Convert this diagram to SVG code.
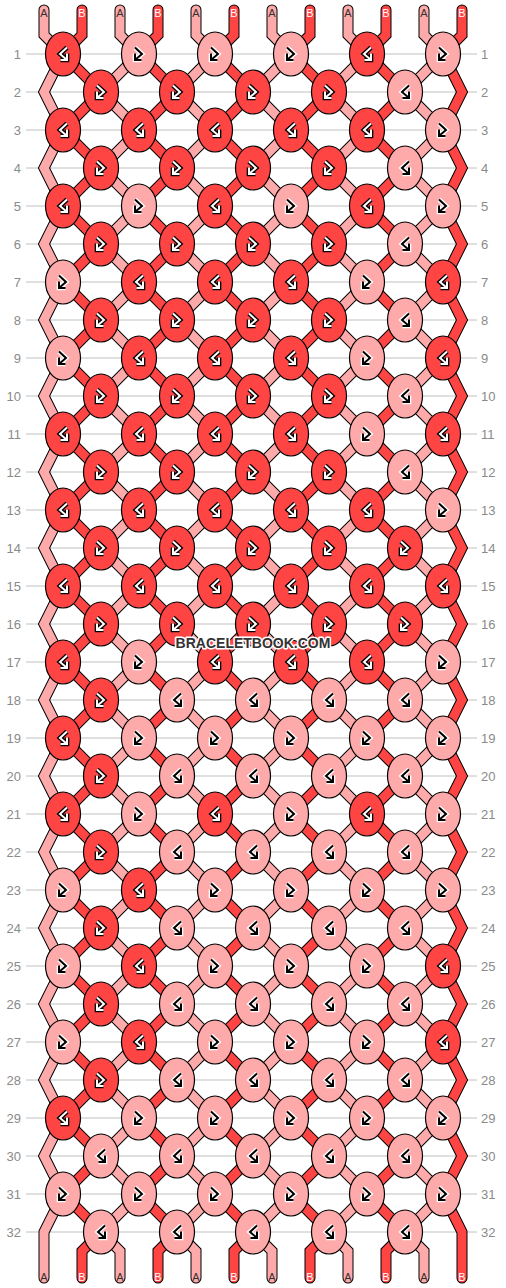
<svg xmlns="http://www.w3.org/2000/svg" xmlns:xlink="http://www.w3.org/1999/xlink" width="506" height="1288" viewBox="0 0 506 1288">
<style>
.grid{fill:none;stroke:#c0c0c0;stroke-width:1}
.rl{font-family:"Liberation Sans",Arial,sans-serif;font-size:13px;fill:#8a8a8a}
.rl.l{text-anchor:end}
.so{fill:none;stroke:#000;stroke-width:11;stroke-linecap:round;stroke-linejoin:miter}
.sa{fill:none;stroke:#ffaaaa;stroke-width:9;stroke-linecap:round;stroke-linejoin:miter}
.sb{fill:none;stroke:#ff4444;stroke-width:9;stroke-linecap:round;stroke-linejoin:miter}
.kd{fill:#ff4444;stroke:#000;stroke-width:1.2}
.kl{fill:#ffaaaa;stroke:#000;stroke-width:1.2}
.aod{stroke:#000;stroke-width:4.6}
.aid{stroke:#fff;stroke-width:2}
.aol{stroke:#fff;stroke-width:4.6}
.ail{stroke:#000;stroke-width:2}
.lab{font-family:"Liberation Sans",Arial,sans-serif;font-size:11px;text-anchor:middle}
.la{fill:#333}
.lb{fill:#fff}
.wm{font-family:"Liberation Sans",Arial,sans-serif;font-size:14px;font-weight:bold;text-anchor:middle;fill:#333;stroke:#fff;stroke-width:3;paint-order:stroke;stroke-linejoin:round}
</style>
<defs>
<path id="fb" fill="none" d="M-4 -6.5 L3 0 L-3.5 5.5 M-4 -0.5 V6 H2.5"/>
<path id="bf" fill="none" d="M4 -6.5 L-3 0 L3.5 5.5 M4 -0.5 V6 H-2.5"/>
<g id="dFB"><ellipse rx="17.5" ry="22" class="kd"/><use href="#fb" class="aod"/><use href="#fb" class="aid"/></g>
<g id="dBF"><ellipse rx="17.5" ry="22" class="kd"/><use href="#bf" class="aod"/><use href="#bf" class="aid"/></g>
<g id="lFB"><ellipse rx="17.5" ry="22" class="kl"/><use href="#fb" class="aol"/><use href="#fb" class="ail"/></g>
<g id="lBF"><ellipse rx="17.5" ry="22" class="kl"/><use href="#bf" class="aol"/><use href="#bf" class="ail"/></g>
<path id="s0" d="M44 10 V35 L63 54 l-19 38 l19 38 l-19 38 l19 38 l-19 38 l19 38 l-19 38 l19 38 l-19 38 l19 38 l-19 38 l19 38 l-19 38 l19 38 l-19 38 l19 38 l-19 38 l19 38 l-19 38 l19 38 l-19 38 l19 38 l-19 38 l19 38 l-19 38 l19 38 l-19 38 l19 38 l-19 38 l19 38 l-19 38 V1278"/>
<path id="s2" d="M120 10 V35 L139 54 l-38 38 l38 38 l-38 38 l38 38 l-38 38 l38 38 l-38 38 l38 38 l-38 38 l38 38 l-38 38 l38 38 l-38 38 l38 38 l-38 38 l38 38 l-38 38 l38 38 l-38 38 l38 38 l-38 38 l38 38 l-38 38 l38 38 l-38 38 l38 38 l-38 38 l38 38 l-38 38 l38 38 l-38 38 l19 19 V1278"/>
<path id="s4" d="M196 10 V35 L215 54 l-38 38 l38 38 l-38 38 l38 38 l-38 38 l38 38 l-38 38 l38 38 l-38 38 l38 38 l-38 38 l38 38 l-38 38 l38 38 l-38 38 l38 38 l-38 38 l38 38 l-38 38 l38 38 l-38 38 l38 38 l-38 38 l38 38 l-38 38 l38 38 l-38 38 l38 38 l-38 38 l38 38 l-38 38 l19 19 V1278"/>
<path id="s6" d="M272 10 V35 L291 54 l-38 38 l38 38 l-38 38 l38 38 l-38 38 l38 38 l-38 38 l38 38 l-38 38 l38 38 l-38 38 l38 38 l-38 38 l38 38 l-38 38 l38 38 l-38 38 l38 38 l-38 38 l38 38 l-38 38 l38 38 l-38 38 l38 38 l-38 38 l38 38 l-38 38 l38 38 l-38 38 l38 38 l-38 38 l19 19 V1278"/>
<path id="s8" d="M348 10 V35 L367 54 l-38 38 l38 38 l-38 38 l38 38 l-38 38 l38 38 l-38 38 l38 38 l-38 38 l38 38 l-38 38 l38 38 l-38 38 l38 38 l-38 38 l38 38 l-38 38 l38 38 l-38 38 l38 38 l-38 38 l38 38 l-38 38 l38 38 l-38 38 l38 38 l-38 38 l38 38 l-38 38 l38 38 l-38 38 l19 19 V1278"/>
<path id="s10" d="M424 10 V35 L443 54 l-38 38 l38 38 l-38 38 l38 38 l-38 38 l38 38 l-38 38 l38 38 l-38 38 l38 38 l-38 38 l38 38 l-38 38 l38 38 l-38 38 l38 38 l-38 38 l38 38 l-38 38 l38 38 l-38 38 l38 38 l-38 38 l38 38 l-38 38 l38 38 l-38 38 l38 38 l-38 38 l38 38 l-38 38 l19 19 V1278"/>
<path id="s1" d="M82 10 V35 L63 54 l38 38 l-38 38 l38 38 l-38 38 l38 38 l-38 38 l38 38 l-38 38 l38 38 l-38 38 l38 38 l-38 38 l38 38 l-38 38 l38 38 l-38 38 l38 38 l-38 38 l38 38 l-38 38 l38 38 l-38 38 l38 38 l-38 38 l38 38 l-38 38 l38 38 l-38 38 l38 38 l-38 38 l38 38 l-19 19 V1278"/>
<path id="s3" d="M158 10 V35 L139 54 l38 38 l-38 38 l38 38 l-38 38 l38 38 l-38 38 l38 38 l-38 38 l38 38 l-38 38 l38 38 l-38 38 l38 38 l-38 38 l38 38 l-38 38 l38 38 l-38 38 l38 38 l-38 38 l38 38 l-38 38 l38 38 l-38 38 l38 38 l-38 38 l38 38 l-38 38 l38 38 l-38 38 l38 38 l-19 19 V1278"/>
<path id="s5" d="M234 10 V35 L215 54 l38 38 l-38 38 l38 38 l-38 38 l38 38 l-38 38 l38 38 l-38 38 l38 38 l-38 38 l38 38 l-38 38 l38 38 l-38 38 l38 38 l-38 38 l38 38 l-38 38 l38 38 l-38 38 l38 38 l-38 38 l38 38 l-38 38 l38 38 l-38 38 l38 38 l-38 38 l38 38 l-38 38 l38 38 l-19 19 V1278"/>
<path id="s7" d="M310 10 V35 L291 54 l38 38 l-38 38 l38 38 l-38 38 l38 38 l-38 38 l38 38 l-38 38 l38 38 l-38 38 l38 38 l-38 38 l38 38 l-38 38 l38 38 l-38 38 l38 38 l-38 38 l38 38 l-38 38 l38 38 l-38 38 l38 38 l-38 38 l38 38 l-38 38 l38 38 l-38 38 l38 38 l-38 38 l38 38 l-19 19 V1278"/>
<path id="s9" d="M386 10 V35 L367 54 l38 38 l-38 38 l38 38 l-38 38 l38 38 l-38 38 l38 38 l-38 38 l38 38 l-38 38 l38 38 l-38 38 l38 38 l-38 38 l38 38 l-38 38 l38 38 l-38 38 l38 38 l-38 38 l38 38 l-38 38 l38 38 l-38 38 l38 38 l-38 38 l38 38 l-38 38 l38 38 l-38 38 l38 38 l-19 19 V1278"/>
<path id="s11" d="M462 10 V35 L443 54 l19 38 l-19 38 l19 38 l-19 38 l19 38 l-19 38 l19 38 l-19 38 l19 38 l-19 38 l19 38 l-19 38 l19 38 l-19 38 l19 38 l-19 38 l19 38 l-19 38 l19 38 l-19 38 l19 38 l-19 38 l19 38 l-19 38 l19 38 l-19 38 l19 38 l-19 38 l19 38 l-19 38 l19 38 V1278"/>
</defs>
<rect width="506" height="1288" fill="#fff"/>
<g id="grid">
<path class="grid" d="M26 54H477M26 92H477M26 130H477M26 168H477M26 206H477M26 244H477M26 282H477M26 320H477M26 358H477M26 396H477M26 434H477M26 472H477M26 510H477M26 548H477M26 586H477M26 624H477M26 662H477M26 700H477M26 738H477M26 776H477M26 814H477M26 852H477M26 890H477M26 928H477M26 966H477M26 1004H477M26 1042H477M26 1080H477M26 1118H477M26 1156H477M26 1194H477M26 1232H477"/>
</g>
<g id="row-labels">
<text class="rl l" x="21" y="58.5">1</text><text class="rl" x="481" y="58.5">1</text>
<text class="rl l" x="21" y="96.5">2</text><text class="rl" x="481" y="96.5">2</text>
<text class="rl l" x="21" y="134.5">3</text><text class="rl" x="481" y="134.5">3</text>
<text class="rl l" x="21" y="172.5">4</text><text class="rl" x="481" y="172.5">4</text>
<text class="rl l" x="21" y="210.5">5</text><text class="rl" x="481" y="210.5">5</text>
<text class="rl l" x="21" y="248.5">6</text><text class="rl" x="481" y="248.5">6</text>
<text class="rl l" x="21" y="286.5">7</text><text class="rl" x="481" y="286.5">7</text>
<text class="rl l" x="21" y="324.5">8</text><text class="rl" x="481" y="324.5">8</text>
<text class="rl l" x="21" y="362.5">9</text><text class="rl" x="481" y="362.5">9</text>
<text class="rl l" x="21" y="400.5">10</text><text class="rl" x="481" y="400.5">10</text>
<text class="rl l" x="21" y="438.5">11</text><text class="rl" x="481" y="438.5">11</text>
<text class="rl l" x="21" y="476.5">12</text><text class="rl" x="481" y="476.5">12</text>
<text class="rl l" x="21" y="514.5">13</text><text class="rl" x="481" y="514.5">13</text>
<text class="rl l" x="21" y="552.5">14</text><text class="rl" x="481" y="552.5">14</text>
<text class="rl l" x="21" y="590.5">15</text><text class="rl" x="481" y="590.5">15</text>
<text class="rl l" x="21" y="628.5">16</text><text class="rl" x="481" y="628.5">16</text>
<text class="rl l" x="21" y="666.5">17</text><text class="rl" x="481" y="666.5">17</text>
<text class="rl l" x="21" y="704.5">18</text><text class="rl" x="481" y="704.5">18</text>
<text class="rl l" x="21" y="742.5">19</text><text class="rl" x="481" y="742.5">19</text>
<text class="rl l" x="21" y="780.5">20</text><text class="rl" x="481" y="780.5">20</text>
<text class="rl l" x="21" y="818.5">21</text><text class="rl" x="481" y="818.5">21</text>
<text class="rl l" x="21" y="856.5">22</text><text class="rl" x="481" y="856.5">22</text>
<text class="rl l" x="21" y="894.5">23</text><text class="rl" x="481" y="894.5">23</text>
<text class="rl l" x="21" y="932.5">24</text><text class="rl" x="481" y="932.5">24</text>
<text class="rl l" x="21" y="970.5">25</text><text class="rl" x="481" y="970.5">25</text>
<text class="rl l" x="21" y="1008.5">26</text><text class="rl" x="481" y="1008.5">26</text>
<text class="rl l" x="21" y="1046.5">27</text><text class="rl" x="481" y="1046.5">27</text>
<text class="rl l" x="21" y="1084.5">28</text><text class="rl" x="481" y="1084.5">28</text>
<text class="rl l" x="21" y="1122.5">29</text><text class="rl" x="481" y="1122.5">29</text>
<text class="rl l" x="21" y="1160.5">30</text><text class="rl" x="481" y="1160.5">30</text>
<text class="rl l" x="21" y="1198.5">31</text><text class="rl" x="481" y="1198.5">31</text>
<text class="rl l" x="21" y="1236.5">32</text><text class="rl" x="481" y="1236.5">32</text>
</g>
<g id="connectors">
<g class="so"><use href="#s0"/><use href="#s1"/><use href="#s2"/><use href="#s3"/><use href="#s4"/><use href="#s5"/><use href="#s6"/><use href="#s7"/><use href="#s8"/><use href="#s9"/><use href="#s10"/><use href="#s11"/></g>
<g class="sa"><use href="#s0"/><use href="#s2"/><use href="#s4"/><use href="#s6"/><use href="#s8"/><use href="#s10"/></g>
<g class="sb"><use href="#s1"/><use href="#s3"/><use href="#s5"/><use href="#s7"/><use href="#s9"/><use href="#s11"/></g>
</g>
<g id="string-labels">
<text class="lab la" x="44" y="17">A</text><text class="lab lb" x="82" y="17">B</text><text class="lab la" x="120" y="17">A</text><text class="lab lb" x="158" y="17">B</text><text class="lab la" x="196" y="17">A</text><text class="lab lb" x="234" y="17">B</text><text class="lab la" x="272" y="17">A</text><text class="lab lb" x="310" y="17">B</text><text class="lab la" x="348" y="17">A</text><text class="lab lb" x="386" y="17">B</text><text class="lab la" x="424" y="17">A</text><text class="lab lb" x="462" y="17">B</text>
<text class="lab la" x="44" y="1281">A</text><text class="lab lb" x="82" y="1281">B</text><text class="lab la" x="120" y="1281">A</text><text class="lab lb" x="158" y="1281">B</text><text class="lab la" x="196" y="1281">A</text><text class="lab lb" x="234" y="1281">B</text><text class="lab la" x="272" y="1281">A</text><text class="lab lb" x="310" y="1281">B</text><text class="lab la" x="348" y="1281">A</text><text class="lab lb" x="386" y="1281">B</text><text class="lab la" x="424" y="1281">A</text><text class="lab lb" x="462" y="1281">B</text>
</g>
<g id="knots">
<g id="k1-1"><use href="#dBF" x="63" y="54"/></g><g id="k1-2"><use href="#lFB" x="139" y="54"/></g><g id="k1-3"><use href="#lFB" x="215" y="54"/></g><g id="k1-4"><use href="#lFB" x="291" y="54"/></g><g id="k1-5"><use href="#dBF" x="367" y="54"/></g><g id="k1-6"><use href="#lFB" x="443" y="54"/></g>
<g id="k2-1"><use href="#dFB" x="101" y="92"/></g><g id="k2-2"><use href="#dFB" x="177" y="92"/></g><g id="k2-3"><use href="#dFB" x="253" y="92"/></g><g id="k2-4"><use href="#dFB" x="329" y="92"/></g><g id="k2-5"><use href="#lBF" x="405" y="92"/></g>
<g id="k3-1"><use href="#dBF" x="63" y="130"/></g><g id="k3-2"><use href="#dBF" x="139" y="130"/></g><g id="k3-3"><use href="#dBF" x="215" y="130"/></g><g id="k3-4"><use href="#dBF" x="291" y="130"/></g><g id="k3-5"><use href="#dBF" x="367" y="130"/></g><g id="k3-6"><use href="#lFB" x="443" y="130"/></g>
<g id="k4-1"><use href="#dFB" x="101" y="168"/></g><g id="k4-2"><use href="#dFB" x="177" y="168"/></g><g id="k4-3"><use href="#dFB" x="253" y="168"/></g><g id="k4-4"><use href="#dFB" x="329" y="168"/></g><g id="k4-5"><use href="#lBF" x="405" y="168"/></g>
<g id="k5-1"><use href="#dBF" x="63" y="206"/></g><g id="k5-2"><use href="#lFB" x="139" y="206"/></g><g id="k5-3"><use href="#dBF" x="215" y="206"/></g><g id="k5-4"><use href="#lFB" x="291" y="206"/></g><g id="k5-5"><use href="#dBF" x="367" y="206"/></g><g id="k5-6"><use href="#lFB" x="443" y="206"/></g>
<g id="k6-1"><use href="#dFB" x="101" y="244"/></g><g id="k6-2"><use href="#dFB" x="177" y="244"/></g><g id="k6-3"><use href="#dFB" x="253" y="244"/></g><g id="k6-4"><use href="#dFB" x="329" y="244"/></g><g id="k6-5"><use href="#lBF" x="405" y="244"/></g>
<g id="k7-1"><use href="#lFB" x="63" y="282"/></g><g id="k7-2"><use href="#dBF" x="139" y="282"/></g><g id="k7-3"><use href="#dBF" x="215" y="282"/></g><g id="k7-4"><use href="#dBF" x="291" y="282"/></g><g id="k7-5"><use href="#lFB" x="367" y="282"/></g><g id="k7-6"><use href="#dBF" x="443" y="282"/></g>
<g id="k8-1"><use href="#dFB" x="101" y="320"/></g><g id="k8-2"><use href="#dFB" x="177" y="320"/></g><g id="k8-3"><use href="#dFB" x="253" y="320"/></g><g id="k8-4"><use href="#dFB" x="329" y="320"/></g><g id="k8-5"><use href="#lBF" x="405" y="320"/></g>
<g id="k9-1"><use href="#lFB" x="63" y="358"/></g><g id="k9-2"><use href="#dBF" x="139" y="358"/></g><g id="k9-3"><use href="#dBF" x="215" y="358"/></g><g id="k9-4"><use href="#dBF" x="291" y="358"/></g><g id="k9-5"><use href="#lFB" x="367" y="358"/></g><g id="k9-6"><use href="#dBF" x="443" y="358"/></g>
<g id="k10-1"><use href="#dFB" x="101" y="396"/></g><g id="k10-2"><use href="#dFB" x="177" y="396"/></g><g id="k10-3"><use href="#dFB" x="253" y="396"/></g><g id="k10-4"><use href="#dFB" x="329" y="396"/></g><g id="k10-5"><use href="#lBF" x="405" y="396"/></g>
<g id="k11-1"><use href="#dBF" x="63" y="434"/></g><g id="k11-2"><use href="#dBF" x="139" y="434"/></g><g id="k11-3"><use href="#dBF" x="215" y="434"/></g><g id="k11-4"><use href="#dBF" x="291" y="434"/></g><g id="k11-5"><use href="#lFB" x="367" y="434"/></g><g id="k11-6"><use href="#dBF" x="443" y="434"/></g>
<g id="k12-1"><use href="#dFB" x="101" y="472"/></g><g id="k12-2"><use href="#dFB" x="177" y="472"/></g><g id="k12-3"><use href="#dFB" x="253" y="472"/></g><g id="k12-4"><use href="#dFB" x="329" y="472"/></g><g id="k12-5"><use href="#lBF" x="405" y="472"/></g>
<g id="k13-1"><use href="#dBF" x="63" y="510"/></g><g id="k13-2"><use href="#dBF" x="139" y="510"/></g><g id="k13-3"><use href="#dBF" x="215" y="510"/></g><g id="k13-4"><use href="#dBF" x="291" y="510"/></g><g id="k13-5"><use href="#dBF" x="367" y="510"/></g><g id="k13-6"><use href="#lFB" x="443" y="510"/></g>
<g id="k14-1"><use href="#dFB" x="101" y="548"/></g><g id="k14-2"><use href="#dFB" x="177" y="548"/></g><g id="k14-3"><use href="#dFB" x="253" y="548"/></g><g id="k14-4"><use href="#dFB" x="329" y="548"/></g><g id="k14-5"><use href="#dFB" x="405" y="548"/></g>
<g id="k15-1"><use href="#dBF" x="63" y="586"/></g><g id="k15-2"><use href="#dBF" x="139" y="586"/></g><g id="k15-3"><use href="#dBF" x="215" y="586"/></g><g id="k15-4"><use href="#dBF" x="291" y="586"/></g><g id="k15-5"><use href="#dBF" x="367" y="586"/></g><g id="k15-6"><use href="#dBF" x="443" y="586"/></g>
<g id="k16-1"><use href="#dFB" x="101" y="624"/></g><g id="k16-2"><use href="#dFB" x="177" y="624"/></g><g id="k16-3"><use href="#dFB" x="253" y="624"/></g><g id="k16-4"><use href="#dFB" x="329" y="624"/></g><g id="k16-5"><use href="#dFB" x="405" y="624"/></g>
<g id="k17-1"><use href="#dBF" x="63" y="662"/></g><g id="k17-2"><use href="#lFB" x="139" y="662"/></g><g id="k17-3"><use href="#dBF" x="215" y="662"/></g><g id="k17-4"><use href="#dBF" x="291" y="662"/></g><g id="k17-5"><use href="#dBF" x="367" y="662"/></g><g id="k17-6"><use href="#lFB" x="443" y="662"/></g>
<g id="k18-1"><use href="#dFB" x="101" y="700"/></g><g id="k18-2"><use href="#lBF" x="177" y="700"/></g><g id="k18-3"><use href="#lBF" x="253" y="700"/></g><g id="k18-4"><use href="#lBF" x="329" y="700"/></g><g id="k18-5"><use href="#lBF" x="405" y="700"/></g>
<g id="k19-1"><use href="#dBF" x="63" y="738"/></g><g id="k19-2"><use href="#lFB" x="139" y="738"/></g><g id="k19-3"><use href="#lFB" x="215" y="738"/></g><g id="k19-4"><use href="#lFB" x="291" y="738"/></g><g id="k19-5"><use href="#lFB" x="367" y="738"/></g><g id="k19-6"><use href="#lFB" x="443" y="738"/></g>
<g id="k20-1"><use href="#dFB" x="101" y="776"/></g><g id="k20-2"><use href="#lBF" x="177" y="776"/></g><g id="k20-3"><use href="#lBF" x="253" y="776"/></g><g id="k20-4"><use href="#lBF" x="329" y="776"/></g><g id="k20-5"><use href="#lBF" x="405" y="776"/></g>
<g id="k21-1"><use href="#dBF" x="63" y="814"/></g><g id="k21-2"><use href="#lFB" x="139" y="814"/></g><g id="k21-3"><use href="#dBF" x="215" y="814"/></g><g id="k21-4"><use href="#lFB" x="291" y="814"/></g><g id="k21-5"><use href="#dBF" x="367" y="814"/></g><g id="k21-6"><use href="#lFB" x="443" y="814"/></g>
<g id="k22-1"><use href="#dFB" x="101" y="852"/></g><g id="k22-2"><use href="#lBF" x="177" y="852"/></g><g id="k22-3"><use href="#lBF" x="253" y="852"/></g><g id="k22-4"><use href="#lBF" x="329" y="852"/></g><g id="k22-5"><use href="#lBF" x="405" y="852"/></g>
<g id="k23-1"><use href="#lFB" x="63" y="890"/></g><g id="k23-2"><use href="#dBF" x="139" y="890"/></g><g id="k23-3"><use href="#lFB" x="215" y="890"/></g><g id="k23-4"><use href="#lFB" x="291" y="890"/></g><g id="k23-5"><use href="#lFB" x="367" y="890"/></g><g id="k23-6"><use href="#lFB" x="443" y="890"/></g>
<g id="k24-1"><use href="#dFB" x="101" y="928"/></g><g id="k24-2"><use href="#lBF" x="177" y="928"/></g><g id="k24-3"><use href="#lBF" x="253" y="928"/></g><g id="k24-4"><use href="#lBF" x="329" y="928"/></g><g id="k24-5"><use href="#lBF" x="405" y="928"/></g>
<g id="k25-1"><use href="#lFB" x="63" y="966"/></g><g id="k25-2"><use href="#dBF" x="139" y="966"/></g><g id="k25-3"><use href="#lFB" x="215" y="966"/></g><g id="k25-4"><use href="#lFB" x="291" y="966"/></g><g id="k25-5"><use href="#lFB" x="367" y="966"/></g><g id="k25-6"><use href="#dBF" x="443" y="966"/></g>
<g id="k26-1"><use href="#dFB" x="101" y="1004"/></g><g id="k26-2"><use href="#lBF" x="177" y="1004"/></g><g id="k26-3"><use href="#lBF" x="253" y="1004"/></g><g id="k26-4"><use href="#lBF" x="329" y="1004"/></g><g id="k26-5"><use href="#lBF" x="405" y="1004"/></g>
<g id="k27-1"><use href="#lFB" x="63" y="1042"/></g><g id="k27-2"><use href="#dBF" x="139" y="1042"/></g><g id="k27-3"><use href="#lFB" x="215" y="1042"/></g><g id="k27-4"><use href="#lFB" x="291" y="1042"/></g><g id="k27-5"><use href="#lFB" x="367" y="1042"/></g><g id="k27-6"><use href="#dBF" x="443" y="1042"/></g>
<g id="k28-1"><use href="#dFB" x="101" y="1080"/></g><g id="k28-2"><use href="#lBF" x="177" y="1080"/></g><g id="k28-3"><use href="#lBF" x="253" y="1080"/></g><g id="k28-4"><use href="#lBF" x="329" y="1080"/></g><g id="k28-5"><use href="#lBF" x="405" y="1080"/></g>
<g id="k29-1"><use href="#dBF" x="63" y="1118"/></g><g id="k29-2"><use href="#lFB" x="139" y="1118"/></g><g id="k29-3"><use href="#lFB" x="215" y="1118"/></g><g id="k29-4"><use href="#lFB" x="291" y="1118"/></g><g id="k29-5"><use href="#lFB" x="367" y="1118"/></g><g id="k29-6"><use href="#lFB" x="443" y="1118"/></g>
<g id="k30-1"><use href="#lBF" x="101" y="1156"/></g><g id="k30-2"><use href="#lBF" x="177" y="1156"/></g><g id="k30-3"><use href="#lBF" x="253" y="1156"/></g><g id="k30-4"><use href="#lBF" x="329" y="1156"/></g><g id="k30-5"><use href="#lBF" x="405" y="1156"/></g>
<g id="k31-1"><use href="#lFB" x="63" y="1194"/></g><g id="k31-2"><use href="#lFB" x="139" y="1194"/></g><g id="k31-3"><use href="#lFB" x="215" y="1194"/></g><g id="k31-4"><use href="#lFB" x="291" y="1194"/></g><g id="k31-5"><use href="#lFB" x="367" y="1194"/></g><g id="k31-6"><use href="#lFB" x="443" y="1194"/></g>
<g id="k32-1"><use href="#lBF" x="101" y="1232"/></g><g id="k32-2"><use href="#lBF" x="177" y="1232"/></g><g id="k32-3"><use href="#lBF" x="253" y="1232"/></g><g id="k32-4"><use href="#lBF" x="329" y="1232"/></g><g id="k32-5"><use href="#lBF" x="405" y="1232"/></g>
</g>
<text class="wm" x="253" y="648">BRACELETBOOK.COM</text>
</svg>
